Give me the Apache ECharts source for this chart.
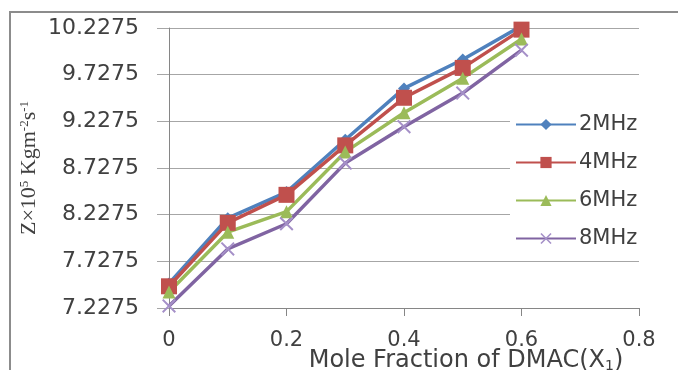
<!DOCTYPE html>
<html>
<head>
<meta charset="utf-8">
<script src="https://cdn.jsdelivr.net/npm/echarts@6/dist/echarts.min.js"></script>
<style>
  html, body { margin: 0; padding: 0; background: #fff; }
  #chart { width: 678px; height: 370px; }
</style>
</head>
<body>
<div id="chart"></div>
<script>
    // mole fraction of DMAC
    var moleFraction = [ 0, 0.1, 0.2, 0.3, 0.4, 0.5, 0.6 ];
    var seriesNames = [ '2MHz', '4MHz', '6MHz', '8MHz' ];
    // Z x 10^5 values for each frequency
    var z2MHz = [ 7.49, 8.19, 8.47, 9.03, 9.58, 9.89, 10.25 ];
    var z4MHz = [ 7.46, 8.14, 8.44, 8.97, 9.48, 9.80, 10.21 ];
    var z6MHz = [ 7.40, 8.04, 8.26, 8.90, 9.32, 9.69, 10.11 ];
    var z8MHz = [ 7.25, 7.86, 8.13, 8.78, 9.17, 9.53, 9.99 ];
    // y tick labels as printed on the axis
    var yTickLabels = [ '7.2275', '7.7275', '8.2275', '8.7275', '9.2275', '9.7275', '10.2275' ];

    var colors = [ '#4f81bd', '#c0504d', '#9bbb59', '#8064a2' ];
    var symbols = [
        'diamond',
        'rect',
        'triangle',
        'path://M0,1 L1,0 L5,4 L9,0 L10,1 L6,5 L10,9 L9,10 L5,6 L1,10 L0,9 L4,5 Z'
    ];
    var symbolSizes = [ 12, 16, 13, 14 ];
    var symbolColors = [ '#4f81bd', '#c0504d', '#9bbb59', '#a590c8' ];

    function pairs( ys ) {
        return moleFraction.map( function( x, i ) { return [ x, ys[ i ] ]; } );
    }

    var allValues = [ z2MHz, z4MHz, z6MHz, z8MHz ];
    var series = allValues.map( function( ys, i ) {
        return {
            name: seriesNames[ i ],
            type: 'line',
            data: pairs( ys ),
            symbol: symbols[ i ],
            symbolSize: symbolSizes[ i ],
            showAllSymbol: true,
            lineStyle: { width: 3.5, color: colors[ i ] },
            itemStyle: { color: symbolColors[ i ], borderWidth: 0 },
            animation: false
        };
    } );

    var chart = echarts.init( document.getElementById( 'chart' ) );
    chart.setOption( {
        backgroundColor: '#ffffff',
        animation: false,
        grid: { left: 169, right: 39, top: 28, bottom: 62, outerBoundsMode: 'none', containLabel: false },
        legend: {
            orient: 'vertical',
            left: 510,
            top: 108,
            padding: [ 6, 6, 6, 5 ],
            backgroundColor: '#ffffff',
            itemWidth: 60,
            itemHeight: 14,
            itemGap: 17,
            textStyle: { fontFamily: 'DejaVu Sans', fontSize: 21, color: '#404040', padding: [ 0, 0, 0, -2 ] },
            data: seriesNames
        },
        xAxis: {
            type: 'value',
            min: 0,
            max: 0.8,
            interval: 0.2,
            name: 'Mole Fraction of DMAC(X{sub|1})',
            nameLocation: 'middle',
            nameMoveOverlap: false,
            nameGap: 41,
            nameTextStyle: {
                fontFamily: 'DejaVu Sans',
                fontSize: 24,
                color: '#404040',
                padding: [ 0, 0, 0, 124 ],
                rich: {
                    sub: { fontSize: 14, fontFamily: 'DejaVu Sans', color: '#404040', padding: [ 10, 0, 0, 0 ] }
                }
            },
            axisLine: { lineStyle: { color: '#868686', width: 1 } },
            axisTick: { show: true, length: 8, lineStyle: { color: '#868686' } },
            axisLabel: { fontFamily: 'DejaVu Sans', fontSize: 21, color: '#404040', margin: 22 },
            splitLine: { show: false }
        },
        yAxis: {
            type: 'value',
            min: 7.2275,
            max: 10.2275,
            interval: 0.5,
            name: 'Z×10{sup|5} Kgm{sup|-2}s{sup|-1}',
            nameLocation: 'middle',
            nameMoveOverlap: false,
            nameGap: 128,
            nameTextStyle: {
                fontFamily: 'Liberation Serif',
                fontSize: 22,
                color: '#404040',
                rich: {
                    sup: { fontSize: 13, fontFamily: 'Liberation Serif', color: '#404040', padding: [ 0, 0, 10, 0 ] }
                }
            },
            axisLine: { show: true, lineStyle: { color: '#868686', width: 1 } },
            axisTick: { show: true, length: 12, lineStyle: { color: '#a6a6a6' } },
            axisLabel: {
                fontFamily: 'DejaVu Sans',
                fontSize: 22,
                color: '#404040',
                margin: 30,
                formatter: function( v, i ) { return yTickLabels[ i ] !== undefined ? yTickLabels[ i ] : v.toFixed( 4 ); }
            },
            splitLine: { show: true, lineStyle: { color: '#a6a6a6', width: 1 } }
        },
        graphic: [ {
            type: 'rect',
            shape: { x: 10, y: 12, width: 720, height: 420 },
            style: { fill: 'none', stroke: '#8c8c8c', lineWidth: 2 },
            silent: true,
            z: 100
        } ],
        series: series
    } );
</script>
</body>
</html>
